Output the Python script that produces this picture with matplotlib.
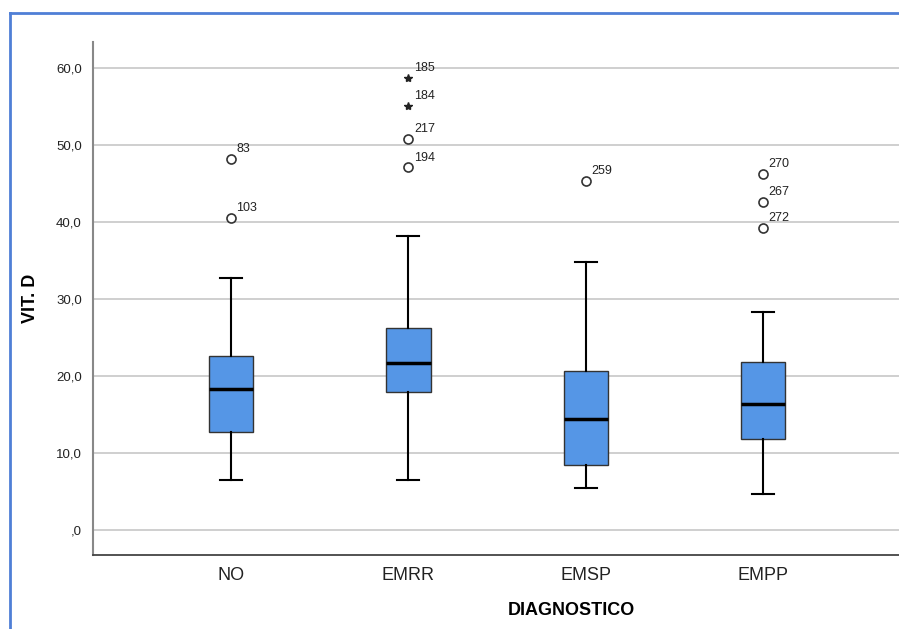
import matplotlib
matplotlib.use("Agg")
import matplotlib.pyplot as plt
from matplotlib.lines import Line2D

plt.rcParams["font.family"] = ["Liberation Sans", "DejaVu Sans"]

# five-number summaries per diagnosis group
groups = ["NO", "EMRR", "EMSP", "EMPP"]
whisker_low = [6.5, 6.5, 5.5, 4.7]
q1 = [12.7, 17.9, 8.4, 11.8]
median = [18.3, 21.7, 14.4, 16.4]
q3 = [22.6, 26.2, 20.6, 21.8]
whisker_high = [32.7, 38.2, 34.8, 28.3]

# outliers (value, case id); extremes are drawn as stars
outliers = [
    [(48.2, "83"), (40.5, "103")],
    [(50.8, "217"), (47.1, "194")],
    [(45.3, "259")],
    [(46.2, "270"), (42.6, "267"), (39.2, "272")],
]
extremes = [
    [],
    [(58.7, "185"), (55.1, "184")],
    [],
    [],
]

yticks = [0, 10, 20, 30, 40, 50, 60]
ytick_labels = [",0", "10,0", "20,0", "30,0", "40,0", "50,0", "60,0"]

box_color = "#5596E6"

fig = plt.figure(figsize=(8.99, 6.29), dpi=100)
ax = fig.add_axes([93 / 899, 74 / 629, 806 / 899, 513 / 629])

positions = list(range(1, len(groups) + 1))
stats = []
for i, name in enumerate(groups):
    stats.append({
        "label": name,
        "whislo": whisker_low[i],
        "q1": q1[i],
        "med": median[i],
        "q3": q3[i],
        "whishi": whisker_high[i],
        "fliers": [],
    })

ax.bxp(
    stats,
    positions=positions,
    widths=0.25,
    patch_artist=True,
    showfliers=False,
    boxprops=dict(facecolor=box_color, edgecolor="#333333", linewidth=1.0),
    medianprops=dict(color="black", linewidth=2.5),
    whiskerprops=dict(color="black", linewidth=1.5),
    capprops=dict(color="black", linewidth=1.5),
    capwidths=0.125,
    zorder=3,
)

for pos, pts in zip(positions, outliers):
    for val, label in pts:
        ax.plot(pos, val, marker="o", markersize=6.5, markerfacecolor="white",
                markeredgecolor="#333333", markeredgewidth=1.2, zorder=4)
        ax.annotate(label, (pos, val), xytext=(4, 5), textcoords="offset points",
                    fontsize=9, color="#222222", zorder=5)

for pos, pts in zip(positions, extremes):
    for val, label in pts:
        ax.plot(pos, val, marker="*", markersize=6, color="#222222", zorder=4)
        ax.annotate(label, (pos, val), xytext=(4, 5), textcoords="offset points",
                    fontsize=9, color="#222222", zorder=5)

ax.set_xlim(0.222, 4.766)
ax.set_ylim(-3.25, 63.4)
ax.set_yticks(yticks)
ax.set_yticklabels(ytick_labels, fontsize=9.5, color="#222222")
ax.set_xticks(positions)
ax.set_xticklabels(groups, fontsize=13, color="#222222")
ax.tick_params(axis="both", length=0, pad=8)
ax.tick_params(axis="x", pad=9)

ax.grid(axis="y", color="#cccccc", linewidth=1.3, zorder=0)
ax.set_axisbelow(True)
for side in ("top", "right"):
    ax.spines[side].set_visible(False)
ax.spines["left"].set_color("#888888")
ax.spines["left"].set_linewidth(1.5)
ax.spines["bottom"].set_color("#444444")
ax.spines["bottom"].set_linewidth(1.3)

ax.set_ylabel("VIT. D", fontsize=13, fontweight="bold", labelpad=12)
ax.set_xlabel("DIAGNOSTICO", fontsize=13, fontweight="bold")
ax.xaxis.set_label_coords(0.594, -0.092)

# blue frame along the left and top edges
fig.add_artist(Line2D([10 / 899, 10 / 899], [0, 1 - 13 / 629],
                      transform=fig.transFigure, color="#4F7FD6", linewidth=2))
fig.add_artist(Line2D([10 / 899, 1], [1 - 13 / 629, 1 - 13 / 629],
                      transform=fig.transFigure, color="#4F7FD6", linewidth=2))

fig.savefig("out.png", dpi=100)
plt.close(fig)
